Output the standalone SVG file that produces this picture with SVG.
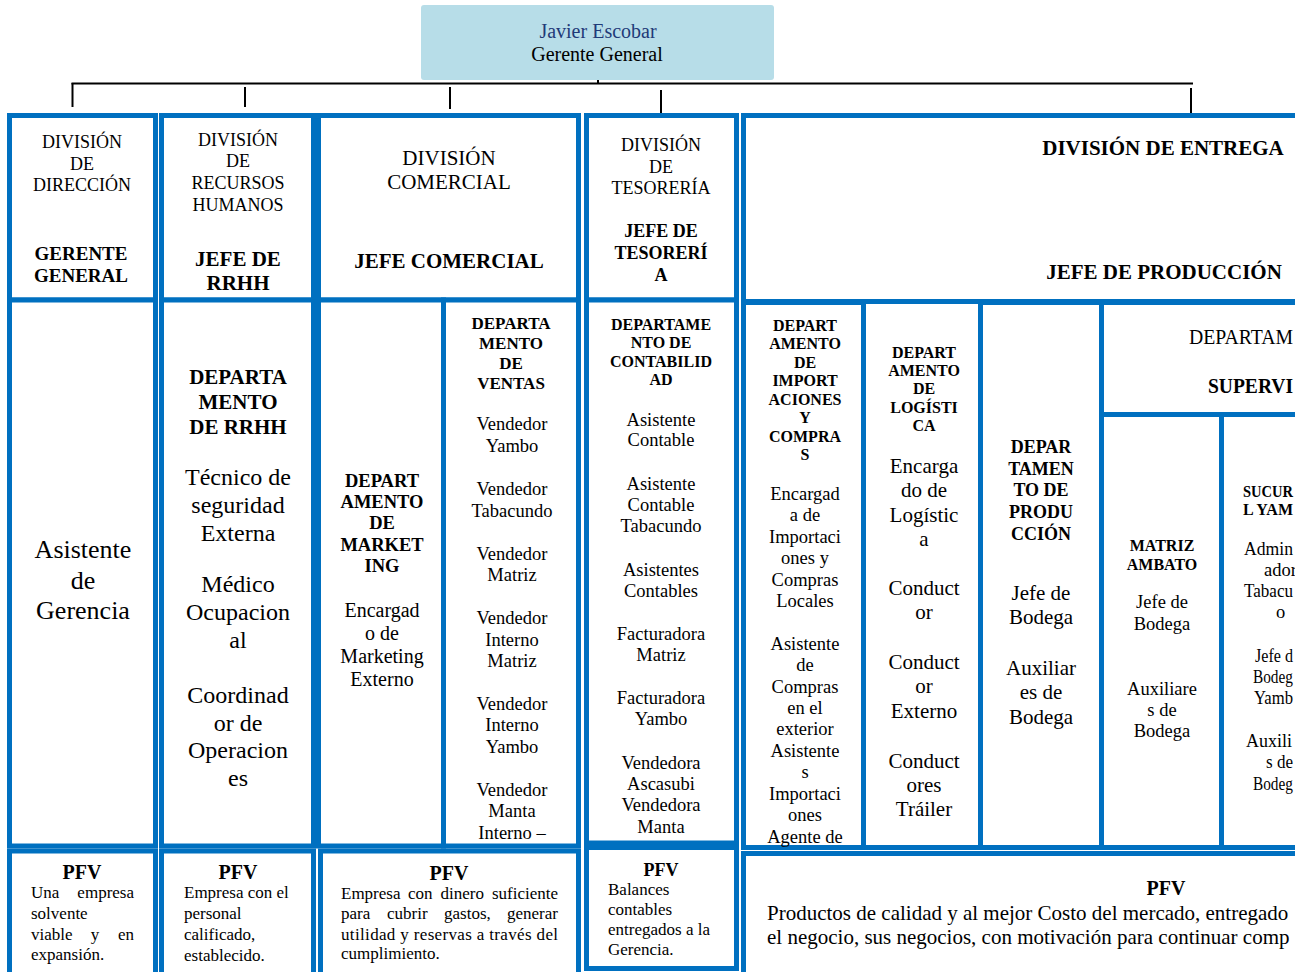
<svg xmlns="http://www.w3.org/2000/svg" width="1295" height="972" viewBox="0 0 1295 972">
<style>
.cell{fill:#fff;stroke:#0070C0;stroke-width:5}
.conn{stroke:#000;stroke-width:2;fill:none}
text{font-family:"Liberation Serif","Times New Roman",serif;fill:#000}
.c{text-anchor:middle}
.s{text-anchor:start}
.e{text-anchor:end}
.b{font-weight:bold}
.f16{font-size:16px}.f17{font-size:17px}.f18{font-size:18px}.f185{font-size:18.5px}.f19{font-size:19px}.f20{font-size:20px}.f21{font-size:21px}.f24{font-size:24px}.f26{font-size:26px}
</style>
<rect width="1295" height="972" fill="#fff"/>

<g id="connectors">
<line class="conn" x1="598" y1="60" x2="598" y2="84"/>
<line class="conn" x1="71.5" y1="83.5" x2="1193" y2="83.5"/>
<line class="conn" x1="72.5" y1="83" x2="72.5" y2="107"/>
<line class="conn" x1="245" y1="87" x2="245" y2="107"/>
<line class="conn" x1="450" y1="87" x2="450" y2="109"/>
<line class="conn" x1="661" y1="90" x2="661" y2="114"/>
<line class="conn" x1="1191" y1="88" x2="1191" y2="113"/>
</g>

<g id="n-gerente">
<rect x="421" y="5" width="353" height="75" rx="3" fill="#b7dde8"/>
<text class="c f20" x="598" y="38" style="fill:#1f3a78">Javier Escobar</text>
<text class="c f20" x="597" y="61">Gerente General</text>
</g>

<g id="n-direccion">
<rect class="cell" x="9.5" y="115.5" width="146" height="184.5"/>
<rect class="cell" x="9.5" y="300" width="146" height="546"/>
<rect class="cell" x="9.5" y="851" width="146" height="130"/>
<text class="c f18" x="82" y="148">DIVISIÓN</text>
<text class="c f18" x="82" y="170">DE</text>
<text class="c f18" x="82" y="191">DIRECCIÓN</text>
<text class="c b f19" x="81" y="260">GERENTE</text>
<text class="c b f19" x="81" y="282">GENERAL</text>
<text class="c f26" x="83" y="558">Asistente</text>
<text class="c f26" x="83" y="589">de</text>
<text class="c f26" x="83" y="619">Gerencia</text>
<text class="c b f20" x="82" y="879">PFV</text>
<text class="s f17" x="31" y="898">Una</text><text class="e f17" x="134" y="898">empresa</text>
<text class="s f17" x="31" y="919">solvente</text>
<text class="s f17" x="31" y="940">viable</text><text class="c f17" x="95" y="940">y</text><text class="e f17" x="134" y="940">en</text>
<text class="s f17" x="31" y="960">expansión.</text>
</g>

<g id="n-rrhh">
<rect class="cell" x="161.5" y="115.5" width="152" height="184.5"/>
<rect class="cell" x="161.5" y="300" width="152" height="546"/>
<rect class="cell" x="161.5" y="851" width="152" height="130"/>
<text class="c f18" x="238" y="146">DIVISIÓN</text>
<text class="c f18" x="238" y="167">DE</text>
<text class="c f18" x="238" y="189">RECURSOS</text>
<text class="c f18" x="238" y="211">HUMANOS</text>
<text class="c b f21" x="238" y="266">JEFE DE</text>
<text class="c b f21" x="238" y="290">RRHH</text>
<text class="c b f21" x="238" y="384">DEPARTA</text>
<text class="c b f21" x="238" y="409">MENTO</text>
<text class="c b f21" x="238" y="434">DE RRHH</text>
<text class="c f24" x="238" y="485">Técnico de</text>
<text class="c f24" x="238" y="513">seguridad</text>
<text class="c f24" x="238" y="541">Externa</text>
<text class="c f24" x="238" y="592">Médico</text>
<text class="c f24" x="238" y="620">Ocupacion</text>
<text class="c f24" x="238" y="648">al</text>
<text class="c f24" x="238" y="703">Coordinad</text>
<text class="c f24" x="238" y="731">or de</text>
<text class="c f24" x="238" y="758">Operacion</text>
<text class="c f24" x="238" y="786">es</text>
<text class="c b f20" x="238" y="879">PFV</text>
<text class="s f17" x="184" y="898">Empresa con el</text>
<text class="s f17" x="184" y="919">personal</text>
<text class="s f17" x="184" y="940">calificado,</text>
<text class="s f17" x="184" y="961">establecido.</text>
</g>

<g id="n-comercial">
<rect class="cell" x="318.5" y="115.5" width="260" height="184.5"/>
<rect class="cell" x="318.5" y="300" width="125" height="546"/>
<rect class="cell" x="443.5" y="300" width="135" height="546"/>
<rect class="cell" x="320.5" y="851" width="258" height="130"/>
<text class="c f21" x="449" y="165">DIVISIÓN</text>
<text class="c f21" x="449" y="189">COMERCIAL</text>
<text class="c b f21" x="449" y="268">JEFE COMERCIAL</text>
<text class="c b f185" x="382" y="487">DEPART</text>
<text class="c b f185" x="382" y="508">AMENTO</text>
<text class="c b f185" x="382" y="529">DE</text>
<text class="c b f185" x="382" y="551">MARKET</text>
<text class="c b f185" x="382" y="572">ING</text>
<text class="c f20" x="382" y="617">Encargad</text>
<text class="c f20" x="382" y="640">o de</text>
<text class="c f20" x="382" y="663">Marketing</text>
<text class="c f20" x="382" y="686">Externo</text>
<text class="c b f17" x="511" y="329">DEPARTA</text>
<text class="c b f17" x="511" y="349">MENTO</text>
<text class="c b f17" x="511" y="369">DE</text>
<text class="c b f17" x="511" y="389">VENTAS</text>
<text class="c f185" x="512" y="430">Vendedor</text>
<text class="c f185" x="512" y="452">Yambo</text>
<text class="c f185" x="512" y="495">Vendedor</text>
<text class="c f185" x="512" y="517">Tabacundo</text>
<text class="c f185" x="512" y="560">Vendedor</text>
<text class="c f185" x="512" y="581">Matriz</text>
<text class="c f185" x="512" y="624">Vendedor</text>
<text class="c f185" x="512" y="646">Interno</text>
<text class="c f185" x="512" y="667">Matriz</text>
<text class="c f185" x="512" y="710">Vendedor</text>
<text class="c f185" x="512" y="731">Interno</text>
<text class="c f185" x="512" y="753">Yambo</text>
<text class="c f185" x="512" y="796">Vendedor</text>
<text class="c f185" x="512" y="817">Manta</text>
<text class="c f185" x="512" y="839">Interno –</text>
<text class="c b f20" x="449" y="880">PFV</text>
<text class="s f17" x="341" y="899">Empresa</text><text class="s f17" x="408" y="899">con</text><text class="s f17" x="440.5" y="899">dinero</text><text class="e f17" x="558" y="899">suficiente</text>
<text class="s f17" x="341" y="919">para</text><text class="s f17" x="387" y="919">cubrir</text><text class="s f17" x="444" y="919">gastos,</text><text class="e f17" x="558" y="919">generar</text>
<text class="s f17" x="341" y="940" textLength="217" lengthAdjust="spacing">utilidad y reservas a través del</text>
<text class="s f17" x="341" y="959">cumplimiento.</text>
</g>

<g id="n-tesoreria">
<rect class="cell" x="586.5" y="115.5" width="150" height="184.5"/>
<rect class="cell" x="586.5" y="300" width="150" height="543"/>
<rect class="cell" x="586.5" y="847.5" width="150" height="121"/>
<text class="c f18" x="661" y="151">DIVISIÓN</text>
<text class="c f18" x="661" y="173">DE</text>
<text class="c f18" x="661" y="194">TESORERÍA</text>
<text class="c b f18" x="661" y="237">JEFE DE</text>
<text class="c b f18" x="661" y="259">TESORERÍ</text>
<text class="c b f18" x="661" y="281">A</text>
<text class="c b f16" x="661" y="330">DEPARTAME</text>
<text class="c b f16" x="661" y="348">NTO DE</text>
<text class="c b f16" x="661" y="367">CONTABILID</text>
<text class="c b f16" x="661" y="385">AD</text>
<text class="c f185" x="661" y="426">Asistente</text>
<text class="c f185" x="661" y="446">Contable</text>
<text class="c f185" x="661" y="490">Asistente</text>
<text class="c f185" x="661" y="511">Contable</text>
<text class="c f185" x="661" y="532">Tabacundo</text>
<text class="c f185" x="661" y="576">Asistentes</text>
<text class="c f185" x="661" y="597">Contables</text>
<text class="c f185" x="661" y="640">Facturadora</text>
<text class="c f185" x="661" y="661">Matriz</text>
<text class="c f185" x="661" y="704">Facturadora</text>
<text class="c f185" x="661" y="725">Yambo</text>
<text class="c f185" x="661" y="769">Vendedora</text>
<text class="c f185" x="661" y="790">Ascasubi</text>
<text class="c f185" x="661" y="811">Vendedora</text>
<text class="c f185" x="661" y="833">Manta</text>
<text class="c b f18" x="661" y="876">PFV</text>
<text class="s f17" x="608" y="895">Balances</text>
<text class="s f17" x="608" y="915">contables</text>
<text class="s f17" x="608" y="935">entregados a la</text>
<text class="s f17" x="608" y="955">Gerencia.</text>
</g>

<g id="n-entrega">
<rect class="cell" x="743.5" y="115.5" width="570" height="186"/>
<rect class="cell" x="743.5" y="302.5" width="120" height="545"/>
<rect class="cell" x="863.5" y="301.5" width="117" height="546"/>
<rect class="cell" x="980.5" y="302.5" width="121" height="545"/>
<rect class="cell" x="1101.5" y="302.5" width="212" height="112"/>
<rect class="cell" x="1101.5" y="414.5" width="120" height="433"/>
<rect class="cell" x="1221.5" y="414.5" width="92" height="433"/>
<rect class="cell" x="743.5" y="853.5" width="570" height="130"/>
<text class="c b f21" x="1163" y="155">DIVISIÓN DE ENTREGA</text>
<text class="c b f21" x="1164" y="279">JEFE DE PRODUCCIÓN</text>
<text class="c b f16" x="805" y="331">DEPART</text>
<text class="c b f16" x="805" y="349">AMENTO</text>
<text class="c b f16" x="805" y="368">DE</text>
<text class="c b f16" x="805" y="386">IMPORT</text>
<text class="c b f16" x="805" y="405">ACIONES</text>
<text class="c b f16" x="805" y="423">Y</text>
<text class="c b f16" x="805" y="442">COMPRA</text>
<text class="c b f16" x="805" y="460">S</text>
<text class="c f185" x="805" y="500">Encargad</text>
<text class="c f185" x="805" y="521">a de</text>
<text class="c f185" x="805" y="543">Importaci</text>
<text class="c f185" x="805" y="564">ones y</text>
<text class="c f185" x="805" y="586">Compras</text>
<text class="c f185" x="805" y="607">Locales</text>
<text class="c f185" x="805" y="650">Asistente</text>
<text class="c f185" x="805" y="671">de</text>
<text class="c f185" x="805" y="693">Compras</text>
<text class="c f185" x="805" y="714">en el</text>
<text class="c f185" x="805" y="735">exterior</text>
<text class="c f185" x="805" y="757">Asistente</text>
<text class="c f185" x="805" y="778">s</text>
<text class="c f185" x="805" y="800">Importaci</text>
<text class="c f185" x="805" y="821">ones</text>
<text class="c f185" x="805" y="843">Agente de</text>
<text class="c b f16" x="924" y="358">DEPART</text>
<text class="c b f16" x="924" y="376">AMENTO</text>
<text class="c b f16" x="924" y="394">DE</text>
<text class="c b f16" x="924" y="413">LOGÍSTI</text>
<text class="c b f16" x="924" y="431">CA</text>
<text class="c f21" x="924" y="473">Encarga</text>
<text class="c f21" x="924" y="497">do de</text>
<text class="c f21" x="924" y="522">Logístic</text>
<text class="c f21" x="924" y="546">a</text>
<text class="c f21" x="924" y="595">Conduct</text>
<text class="c f21" x="924" y="619">or</text>
<text class="c f21" x="924" y="669">Conduct</text>
<text class="c f21" x="924" y="693">or</text>
<text class="c f21" x="924" y="718">Externo</text>
<text class="c f21" x="924" y="768">Conduct</text>
<text class="c f21" x="924" y="792">ores</text>
<text class="c f21" x="924" y="816">Tráiler</text>
<text class="c b f18" x="1041" y="453">DEPAR</text>
<text class="c b f18" x="1041" y="475">TAMEN</text>
<text class="c b f18" x="1041" y="496">TO DE</text>
<text class="c b f18" x="1041" y="518">PRODU</text>
<text class="c b f18" x="1041" y="540">CCIÓN</text>
<text class="c f21" x="1041" y="600">Jefe de</text>
<text class="c f21" x="1041" y="624">Bodega</text>
<text class="c f21" x="1041" y="675">Auxiliar</text>
<text class="c f21" x="1041" y="699">es de</text>
<text class="c f21" x="1041" y="724">Bodega</text>
<text class="s f20" x="1189" y="344" textLength="104" lengthAdjust="spacingAndGlyphs">DEPARTAM</text>
<text class="s b f20" x="1208" y="393" textLength="85" lengthAdjust="spacingAndGlyphs">SUPERVI</text>
<text class="c b f16" x="1162" y="551">MATRIZ</text>
<text class="c b f16" x="1162" y="570">AMBATO</text>
<text class="c f185" x="1162" y="608">Jefe de</text>
<text class="c f185" x="1162" y="630">Bodega</text>
<text class="c f185" x="1162" y="695">Auxiliare</text>
<text class="c f185" x="1162" y="716">s de</text>
<text class="c f185" x="1162" y="737">Bodega</text>
<text class="s b f16" x="1243" y="497" textLength="50" lengthAdjust="spacingAndGlyphs">SUCUR</text>
<text class="s b f16" x="1243" y="515" textLength="50" lengthAdjust="spacingAndGlyphs">L YAM</text>
<text class="s f185" x="1244" y="555" textLength="49" lengthAdjust="spacingAndGlyphs">Admin</text>
<text class="s f185" x="1264" y="576">ador</text>
<text class="s f185" x="1244" y="597" textLength="49" lengthAdjust="spacingAndGlyphs">Tabacu</text>
<text class="s f185" x="1276" y="618">o</text>
<text class="s f185" x="1255" y="662" textLength="38" lengthAdjust="spacingAndGlyphs">Jefe d</text>
<text class="s f185" x="1253" y="683" textLength="40" lengthAdjust="spacingAndGlyphs">Bodeg</text>
<text class="s f185" x="1254" y="704" textLength="39" lengthAdjust="spacingAndGlyphs">Yamb</text>
<text class="s f185" x="1246" y="747" textLength="46" lengthAdjust="spacingAndGlyphs">Auxili</text>
<text class="s f185" x="1266" y="768" textLength="27" lengthAdjust="spacingAndGlyphs">s de</text>
<text class="s f185" x="1253" y="790" textLength="40" lengthAdjust="spacingAndGlyphs">Bodeg</text>
<text class="c b f20" x="1166" y="895">PFV</text>
<text class="s f21" x="767" y="920">Productos de calidad y al mejor Costo del mercado, entregado</text>
<text class="s f21" x="767" y="944">el negocio, sus negocios, con motivación para continuar comp</text>
</g>
</svg>
